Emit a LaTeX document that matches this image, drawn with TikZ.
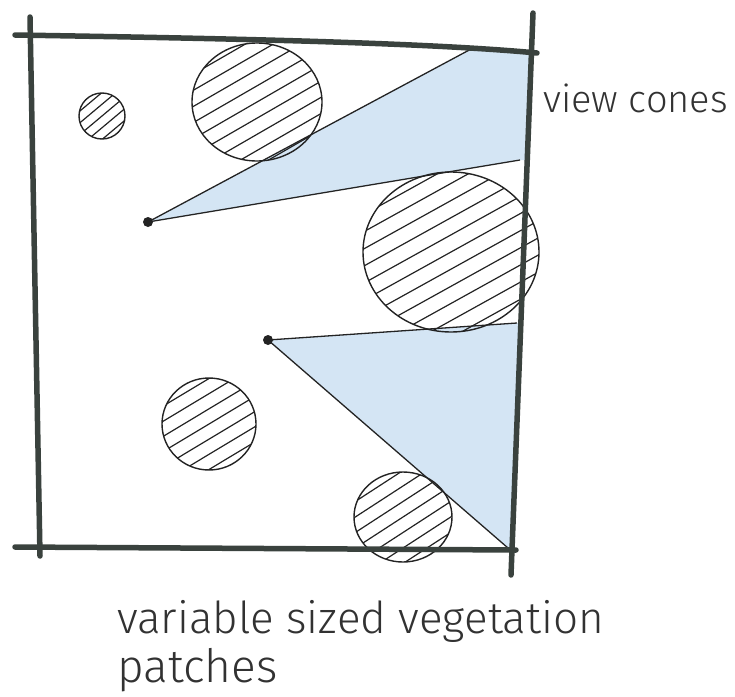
\documentclass[tikz,border=0pt]{standalone}
\usepackage{fontspec}
\newfontfamily\hand{Fira Sans Light}
\definecolor{framec}{RGB}{58,66,62}
\definecolor{conefill}{RGB}{212,229,244}
\definecolor{ink}{RGB}{35,35,35}
\definecolor{textc}{RGB}{50,50,50}
\tikzset{
 frameline/.style={framec, line width=5.5pt, line cap=round},
 patchline/.style={ink, line width=1.4pt},
 hatchline/.style={ink, line width=1.2pt},
 coneedge/.style={ink, line width=1.3pt},
 conearea/.style={fill=conefill, draw=none},
 eyedot/.style={circle, fill=ink, draw=none, inner sep=0pt, minimum size=10pt},
 handtext/.style={textc, inner sep=0pt, anchor=base west},
}
% #1,#2 centre; #3,#4 radii; #5 spacing; #6 rotation
\newcommand{\hatchpatch}[6]{%
 \begin{scope}
  \clip (#1,#2) ellipse [x radius=#3, y radius=#4];
  \foreach \k in {-12,...,12}
   \draw[hatchline, shift={(#1,#2)}, rotate=#6] (\k*#5,-110) -- (\k*#5,110);
 \end{scope}
 \draw[patchline] (#1,#2) ellipse [x radius=#3, y radius=#4];}
\begin{document}
\begin{tikzpicture}[x=1pt,y=-1pt]
\useasboundingbox (0,0) rectangle (735,696);
% cone coordinates
\coordinate (e1) at (148,222);
\coordinate (c1a) at (473,48);
\coordinate (c1b) at (520,160);
\coordinate (e2) at (268,340);
\coordinate (c2a) at (517,323);
\coordinate (c2b) at (508,548);
% cone areas
\fill[conearea] (e1) -- (c1a) -- (531,51) -- (527,160) -- (c1b) -- cycle;
\fill[conearea] (e2) -- (c2a) -- (521,323) -- (514,548) -- (c2b) -- cycle;
% vegetation patches
\hatchpatch{102}{116}{23}{23}{9}{-50}
\hatchpatch{257}{102}{65}{59}{14}{-60}
\hatchpatch{451}{252}{88}{80}{15}{-61}
\hatchpatch{209}{424}{47}{46}{13}{-59}
\hatchpatch{403}{517}{49}{45}{13}{-57}
% cone edges
\draw[coneedge] (e1) -- (c1a);
\draw[coneedge] (e1) -- (c1b);
\draw[coneedge] (e2) -- (c2a);
\draw[coneedge] (e2) -- (c2b);
% frame
\draw[frameline] (15,35) .. controls (200,38) and (420,42) .. (537,53);
\draw[frameline] (30,17) -- (40,556);
\draw[frameline] (533,13) -- (511,575);
\draw[frameline] (15,547) -- (516,550);
% eye points
\node[eyedot] (eye1) at (e1) {};
\node[eyedot] (eye2) at (e2) {};
% labels
\node[handtext, font=\hand\fontsize{38}{46}\selectfont] (vc) at (543,112) {view cones};
\node[handtext, font=\hand\fontsize{44}{52}\selectfont] (vs) at (117,633) {variable sized vegetation};
\node[handtext, font=\hand\fontsize{46}{54}\selectfont] (pt) at (117,682) {patches};
\end{tikzpicture}
\end{document}
